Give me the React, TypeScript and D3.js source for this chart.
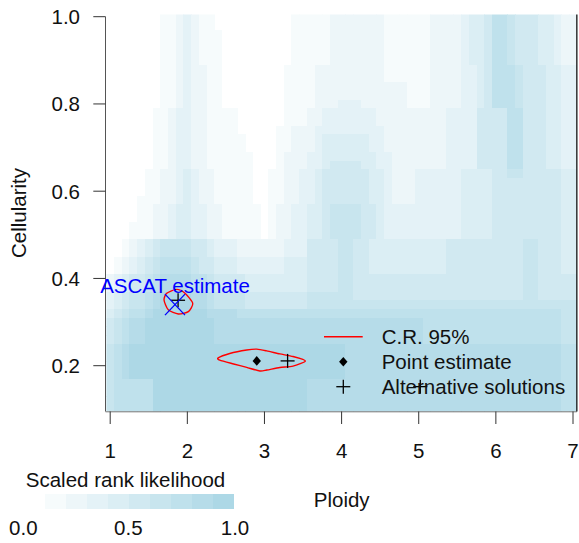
import React from "react";
import * as d3 from "d3";

// Axis ticks
const ploidyTicks = [1, 2, 3, 4, 5, 6, 7];
const cellularityTicks = [0.2, 0.4, 0.6, 0.8, 1.0];
const colorbarTicks = ["0.0", "0.5", "1.0"];

// Likelihood grid: ploidy 1.0..7.0 (step 0.1), cellularity 1.00..0.10 (step 0.02).
// Each row is run-length encoded as "level*count" (level 0..9, scaled by 1/9).
const ploidyStart = 1.0;
const ploidyStep = 0.1;
const cellularityTop = 1.0;
const cellularityStep = 0.02;
const likelihoodRows = [
  "0*7 1*2 2 3 2 1*2 0*10 1*5 2*7 1*6 2*4 3 4*2 5 7*2 6 5*3 4*2 3 2*2",
  "0*7 1*2 2 3 2 1*2 0*10 1*5 2*7 1*6 2*4 3 4*2 5 7*2 6 5*3 4*2 3 2*2",
  "0*7 1*2 2 3 2 1*3 0*9 1*5 2*7 1*6 2*4 3 4*2 5 7*2 6 5*3 4*2 3 2*2",
  "0*7 1*2 2 3 2 1*3 0*9 1*5 2*7 1*6 2*4 3 4*2 5 7*2 6 5*3 4*2 3 2*2",
  "0*7 1*2 2 3 2 1*3 0*9 1*5 2*7 1*6 2*4 3 4*2 5 7*2 6 5*3 4*2 3 2*2",
  "0*7 1*2 2 3 2 1*3 0*9 1*5 2*7 1*6 2*4 3 4*2 5 7*2 6 5*3 4*2 3 2*2",
  "0*7 1*2 2 3 2*2 1*2 0*8 1*4 2*9 1*6 2*4 3*2 4 5 7*3 6 5*3 4*2 3*2",
  "0*7 1*2 2 3 2*2 1*2 0*8 1*4 2*9 1*6 2*4 3*2 4 5 7*3 6 5*3 4*2 3*2",
  "0*7 1*2 2 3 2*2 1*2 0*8 1*4 2*12 1*3 2*4 3*2 4 5 7*3 6 5*3 4*2 3*2",
  "0*7 1*2 2 3 2*2 1*2 0*8 1*4 2*12 1*3 2*4 3*2 4 5 7*3 6 5*3 4*2 3*2",
  "0*7 1*2 2 3 2*2 1*2 0*8 1*4 2*3 3*3 2*6 1*3 2*4 3*2 4 5 7*3 6 5*3 4*2 3*2",
  "0*6 1*2 2 3*2 2*2 1*4 0*6 1*3 2*2 3*7 2*9 3*4 5*4 7*2 5*3 4*2 3*2",
  "0*6 1*2 2 3*2 2*2 1*4 0*6 1*3 2*2 3*7 2*9 3*4 5*4 7*2 5*3 4*2 3*2",
  "0*6 1*2 2 3*2 2*2 1*4 0*5 1*2 2*3 3*9 2*8 3*4 5*4 7*2 5*3 4*2 3*2",
  "0*6 1*2 2 3*2 2*2 1*5 0*4 1*2 2*3 3 4*6 3*2 2*8 3*4 5*4 7*2 5*3 4*2 3*2",
  "0*6 1*2 2 3*2 2*2 1*5 0*4 1*2 2*3 3 4*6 3*2 2*8 3*4 5*4 7*2 5*3 4*2 3*2",
  "0*6 1*2 2 3*2 2*2 1*6 0*3 1 2*3 3*2 4*7 3*2 2*7 3*4 5*4 7*2 5*3 4*2 3*2",
  "0*6 1*2 2 3*2 2*2 1*6 0*3 1 2*3 3*2 4 5*4 4*2 3*2 2*7 3*4 5*4 7*2 5*3 4*2 3*2",
  "0*5 1*2 2*2 3 4 3 2*2 1*5 0*2 1*2 2*2 3*2 4 5*6 4*2 3 2*3 3*6 4*4 5*2 6*2 5*5 4*2",
  "0*5 1*2 2*2 3 4 3 2*2 1*5 0*2 1*2 2*2 3*2 4 5*6 4*2 3 2*3 3*6 4*4 5*9 4*2",
  "0*5 1*2 2*2 3 4 3 2*2 1*5 0*2 1*2 2*2 3*2 4 5*6 4*2 3 2*3 3*6 4*4 5*9 4*2",
  "0*4 1*3 2*2 3 4 3 2*2 1*5 0*2 1*2 2*2 3*2 4 5*6 4*2 3 2*3 3*6 4*4 5*9 4*2",
  "0*4 1*2 2*2 3 4*2 3*2 2*2 1*5 0 1 2*2 3*2 4*2 5 6*4 5*2 4 3*10 4*4 5*9 4*2",
  "0*4 1*2 2*2 3 4*2 3*2 2*2 1*5 0 1 2*2 3*2 4*2 5 6*4 5*2 4 3*10 4*4 5*9 4*2",
  "0*3 1*3 2*2 3 4*2 3*2 2*2 1*5 0 1 2*2 3*2 4*2 5 6*4 5*2 4 3*10 4*4 5*9 4*2",
  "0*3 1*3 2*2 3 4*2 3*2 2*2 1*5 0 1 2*2 3*2 4*2 5 6*4 5*2 4 3*10 4*4 5*9 4*2",
  "0*2 1 2 3 4 5 6*4 5*2 4 3*3 2*6 3*3 5*4 6*2 5*2 4*10 5*10 6*2 5*3 4*2",
  "0*2 1 2 3 4 5 6*4 5*2 4 3*3 2*6 3*3 5*4 6*2 5*2 4*10 5*10 6*2 5*3 4*2",
  "0 1 2 3 4 5 6 7*4 6 5*2 4*3 3*6 4*3 5*4 6*2 5*2 4*10 5*10 6*2 5*3 4*2",
  "0 1 2 3 4 5 6 7*4 6 5*2 4*3 3*6 4*3 5*4 6*2 5*2 4*10 5*10 6*2 5*3 4*2",
  "2 3 4 5*2 6 7 8*4 7*2 6 5*4 4*8 5*4 6*2 5*22 6*2 5*5",
  "2 3 4 5*2 6 7 8*4 7*2 6 5*4 4*8 5*4 6*2 5*22 6*2 5*5",
  "3 4 5 6*2 7 8 9*4 8*2 7 6*4 5*8 6*6 5*22 6*2 5*5",
  "3 4 5 6*2 7 8 9*4 8*2 7 6*4 5*8 6*35",
  "4 5 6 7*2 8 9*7 8*4 7*42 6*2",
  "5 6 7 8*2 9*9 8*27 7*18 6*2",
  "5 6 7 8*2 9*9 8*27 7*18 6*2",
  "5 6 7 8*2 9*9 8*27 7*18 6*2",
  "6 7 8 9*28 8*28 7*2",
  "6 7 8 9*28 8*28 7*2",
  "6 7 8 9*28 8*28 7*2",
  "6 7 8 9*28 8*28 7*2",
  "6 7*5 9*20 8*33 7*2",
  "6 7*5 9*20 8*33 7*2",
  "6 7*5 9*20 8*33 7*2",
  "6 7*5 9*20 8*33 7*2",
];
const levelCount = 9;

// Estimates and alternative solutions (ploidy, cellularity)
const pointEstimate = { ploidy: 2.9, cellularity: 0.211 };
const alternativeSolutions = [
  { ploidy: 3.3, cellularity: 0.211 },
  { ploidy: 1.88, cellularity: 0.35 },
  { ploidy: 5.02, cellularity: 0.152 },
];
const ascatEstimate = { ploidy: 1.84, cellularity: 0.34 };

// 95% credible region outlines (ploidy, cellularity)
const regionMain: [number, number][] = [
  [2.4, 0.218], [2.55, 0.228], [2.77, 0.236], [2.9, 0.238], [3.03, 0.234],
  [3.2, 0.227], [3.37, 0.221], [3.53, 0.211], [3.37, 0.199], [3.2, 0.196],
  [3.03, 0.19], [2.94, 0.188], [2.77, 0.196], [2.6, 0.204], [2.42, 0.213],
];
const regionAscat: [number, number][] = [
  [1.733, 0.366], [1.862, 0.375], [1.97, 0.366], [2.07, 0.343],
  [2.013, 0.324], [1.883, 0.3185], [1.753, 0.328], [1.698, 0.3506],
];

const FONT = "'Liberation Sans', Arial, Helvetica, sans-serif";
const FS = 20.5;

function decodeRow(s: string): number[] {
  const out: number[] = [];
  s.split(" ").forEach((tok) => {
    const [l, n] = tok.split("*");
    const count = n ? +n : 1;
    for (let k = 0; k < count; k++) out.push(+l);
  });
  return out;
}

export default function App() {
  const x = d3.scaleLinear().domain([1, 7]).range([110.2, 573]);
  const y = d3.scaleLinear().domain([0.2, 1.0]).range([365.7, 16.7]);
  const color = d3.interpolateRgb("#ffffff", "#add8e6");

  const left = x(ploidyStart - ploidyStep / 2);
  const right = x(7 + ploidyStep / 2);
  const top = y(1.005);
  const bottom = y(0.095);

  const cells: JSX.Element[] = [];
  likelihoodRows.forEach((row, i) => {
    const c = cellularityTop - i * cellularityStep;
    decodeRow(row).forEach((lvl, j) => {
      if (lvl <= 0) return;
      const p = ploidyStart + j * ploidyStep;
      const x0 = x(p - ploidyStep / 2);
      const x1 = x(p + ploidyStep / 2);
      const y0 = y(c + cellularityStep / 2);
      const y1 = y(c - cellularityStep / 2);
      cells.push(
        <rect
          key={`${i}-${j}`}
          x={x0}
          y={y0}
          width={x1 - x0 + 0.4}
          height={y1 - y0 + 0.4}
          fill={color(lvl / levelCount)}
        />
      );
    });
  });

  const line = d3
    .line<[number, number]>()
    .x((d) => x(d[0]))
    .y((d) => y(d[1]))
    .curve(d3.curveCardinalClosed.tension(0.3));

  const plus = (cx: number, cy: number, r: number, key: string) => (
    <g key={key} stroke="#000" strokeWidth={1.3}>
      <line x1={cx - r} x2={cx + r} y1={cy} y2={cy} />
      <line x1={cx} x2={cx} y1={cy - r} y2={cy + r} />
    </g>
  );
  const diamond = (cx: number, cy: number, key: string) => (
    <path
      key={key}
      d={`M${cx},${cy - 4.8}L${cx + 4.2},${cy}L${cx},${cy + 4.8}L${cx - 4.2},${cy}Z`}
      fill="#000"
    />
  );

  const ax = x(ascatEstimate.ploidy);
  const ay = y(ascatEstimate.cellularity);

  // colour bar
  const barLeft = 45;
  const barW = 21;
  const barTop = 494.3;
  const barH = 14.7;
  const barLevels = d3.range(1, levelCount + 1);
  const barLabelX = [23.3, 128.3, 235];

  // legend layout
  const legX = 381.7;
  const legSym = 343.3;
  const legY = [336.8, 361.7, 386.7];

  return (
    <svg
      width={579}
      height={543}
      style={{ position: "absolute", left: 0, top: 0, background: "#fff" }}
      fontFamily={FONT}
    >
      <defs>
        <clipPath id="plotClip">
          <rect x={left} y={top} width={right - left} height={bottom - top} />
        </clipPath>
      </defs>
      <g clipPath="url(#plotClip)" shapeRendering="crispEdges">
        {cells}
      </g>

      {/* frame lines */}
      <line x1={105.5} x2={105.5} y1={y(1.0)} y2={bottom} stroke="#555" strokeWidth={1} />
      <line x1={105.5} x2={right} y1={bottom + 0.3} y2={bottom + 0.3} stroke="#777" strokeWidth={1} />
      <line x1={right} x2={right} y1={top} y2={bottom} stroke="#000" strokeWidth={1.2} />

      {/* y axis */}
      {cellularityTicks.map((t) => (
        <g key={`yt${t}`}>
          <line x1={93.3} x2={105.5} y1={y(t)} y2={y(t)} stroke="#333" strokeWidth={1} />
          <text x={80} y={y(t) + 7.3} textAnchor="end" fontSize={FS} fill="#111">
            {t.toFixed(1)}
          </text>
        </g>
      ))}
      <text
        transform={`translate(25.5,213) rotate(-90)`}
        textAnchor="middle"
        fontSize={FS}
        fill="#111"
      >
        Cellularity
      </text>

      {/* x axis */}
      {ploidyTicks.map((t) => (
        <g key={`xt${t}`}>
          <line x1={x(t)} x2={x(t)} y1={bottom} y2={424} stroke="#333" strokeWidth={1} />
          <text x={x(t)} y={458} textAnchor="middle" fontSize={FS} fill="#111">
            {t}
          </text>
        </g>
      ))}
      <text x={341.7} y={507} textAnchor="middle" fontSize={FS} fill="#111">
        Ploidy
      </text>

      {/* credible regions */}
      <path d={line(regionMain) || ""} fill="none" stroke="#ff0000" strokeWidth={1.4} />
      <path d={line(regionAscat) || ""} fill="none" stroke="#ff0000" strokeWidth={1.4} />

      {/* estimates */}
      {diamond(x(pointEstimate.ploidy), y(pointEstimate.cellularity), "pe")}
      {alternativeSolutions.map((s, i) => plus(x(s.ploidy), y(s.cellularity), 7, `alt${i}`))}
      <g stroke="#0000ff" strokeWidth={1.3}>
        <line x1={ax - 10} x2={ax + 10} y1={ay - 10.5} y2={ay + 10.5} />
        <line x1={ax - 10} x2={ax + 10} y1={ay + 10.5} y2={ay - 10.5} />
      </g>
      <text x={ax} y={ay - 12} textAnchor="middle" fontSize={FS} fill="#0000ff">
        ASCAT estimate
      </text>

      {/* legend */}
      <line x1={324} x2={362.7} y1={legY[0]} y2={legY[0]} stroke="#ff0000" strokeWidth={1.4} />
      {diamond(legSym, legY[1], "legd")}
      {plus(legSym, legY[2], 7, "legp")}
      <text x={legX} y={legY[0] + 7.5} fontSize={FS} fill="#111">C.R. 95%</text>
      <text x={legX} y={legY[1] + 7.3} fontSize={FS} fill="#111">Point estimate</text>
      <text x={legX} y={legY[2] + 7.3} fontSize={FS} fill="#111">Alternative solutions</text>

      {/* colour bar */}
      <text x={125.5} y={487} textAnchor="middle" fontSize={FS} fill="#111">
        Scaled rank likelihood
      </text>
      <g shapeRendering="crispEdges">
        {barLevels.map((l, k) => (
          <rect
            key={`cb${l}`}
            x={barLeft + k * barW}
            y={barTop}
            width={barW + 0.3}
            height={barH}
            fill={color(l / levelCount)}
          />
        ))}
      </g>
      {colorbarTicks.map((t, k) => (
        <text key={`cbt${t}`} x={barLabelX[k]} y={535} textAnchor="middle" fontSize={FS} fill="#111">
          {t}
        </text>
      ))}
    </svg>
  );
}
